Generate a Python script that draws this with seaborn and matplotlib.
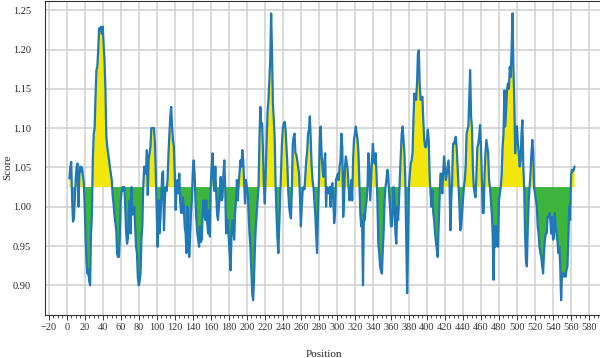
import numpy as np
import pandas as pd
import matplotlib
matplotlib.use("Agg")
import matplotlib.pyplot as plt
import seaborn as sns
from matplotlib.ticker import MultipleLocator

# scores, one per residue position (3 .. 564)
start_pos = 3
scores = [
    1.036, 1.050, 1.057, 1.010, 0.981, 0.985, 1.010, 1.035, 1.050, 1.055,
    1.000, 1.040, 1.051, 1.045, 1.050, 1.040, 1.030, 1.000, 0.960, 0.930,
    0.915, 0.920, 0.905, 0.900, 0.966, 0.990, 1.060, 1.093, 1.100, 1.140,
    1.174, 1.178, 1.200, 1.227, 1.225, 1.229, 1.220, 1.229, 1.208, 1.185,
    1.150, 1.090, 1.076, 1.068, 1.060, 1.050, 1.042, 1.034, 1.015, 1.004,
    0.990, 0.980, 0.970, 0.940, 0.936, 0.936, 0.960, 1.008, 1.020, 1.025,
    1.020, 1.025, 1.000, 0.966, 0.953, 0.960, 0.990, 1.008, 0.966, 1.025,
    0.990, 0.995, 1.000, 0.975, 0.949, 0.941, 0.910, 0.900, 0.905, 0.915,
    0.960, 0.975, 1.025, 1.051, 1.045, 1.042, 1.072, 1.015, 1.060, 1.068,
    1.076, 1.100, 1.100, 1.100, 1.100, 1.080, 1.040, 0.990, 0.949, 1.008,
    0.966, 0.983, 1.010, 1.042, 1.045, 0.970, 1.010, 1.025, 1.020, 1.034,
    1.068, 1.093, 1.115, 1.127, 1.102, 1.085, 1.076, 1.042, 0.996, 1.025,
    1.034, 1.017, 1.042, 1.008, 0.992, 0.992, 1.012, 1.000, 0.975, 0.966,
    0.941, 1.000, 0.975, 0.936, 0.960, 0.992, 1.008, 1.045, 1.059, 1.042,
    1.008, 0.983, 0.966, 0.958, 0.949, 0.975, 0.955, 0.958, 0.992, 1.008,
    0.990, 0.983, 1.008, 0.980, 0.966, 0.995, 0.962, 1.030, 1.051, 1.068,
    1.030, 1.020, 1.051, 1.017, 0.990, 0.983, 1.000, 1.017, 1.038, 1.008,
    1.012, 1.040, 1.059, 1.025, 0.966, 0.975, 0.983, 0.958, 0.940, 0.919,
    0.966, 0.983, 0.970, 0.958, 0.992, 1.008, 1.034, 1.008, 1.030, 1.045,
    1.059, 1.051, 1.072, 1.059, 1.030, 1.004, 1.034, 1.025, 1.017, 0.990,
    0.965, 0.949, 0.920, 0.890, 0.881, 0.907, 0.949, 0.975, 0.992, 1.008,
    1.025, 1.085, 1.127, 1.102, 1.106, 1.068, 1.025, 1.004, 1.042, 1.085,
    1.120, 1.136, 1.160, 1.187, 1.246, 1.195, 1.131, 1.110, 1.085, 1.025,
    0.990, 0.960, 0.941, 0.975, 1.010, 1.040, 1.080, 1.100, 1.106, 1.108,
    1.098, 1.076, 1.055, 1.020, 1.000, 0.990, 0.985, 1.020, 1.080, 1.089,
    1.093, 1.068, 1.066, 1.059, 1.050, 1.042, 1.013, 0.975, 1.000, 1.020,
    1.025, 1.022, 1.040, 1.059, 1.070, 1.093, 1.098, 1.115, 1.085, 1.051,
    1.034, 1.025, 1.008, 0.990, 0.966, 0.941, 0.992, 1.030, 1.085, 1.102,
    1.068, 1.050, 1.038, 1.055, 1.068, 1.000, 1.025, 1.020, 1.017, 1.025,
    1.000, 1.025, 1.030, 1.008, 0.979, 0.992, 1.034, 1.038, 1.042, 1.034,
    1.051, 1.059, 1.093, 1.076, 0.987, 1.008, 1.051, 1.064, 1.055, 1.047,
    1.025, 1.008, 1.017, 1.034, 1.008, 1.060, 1.085, 1.093, 1.102, 1.093,
    1.085, 1.068, 1.030, 0.992, 0.975, 0.983, 0.900, 0.990, 0.983, 1.000,
    1.008, 1.025, 1.068, 1.051, 1.008, 1.034, 1.060, 1.080, 1.064, 1.055,
    1.068, 1.042, 1.008, 0.953, 0.941, 0.924, 0.918, 0.915, 0.945, 0.970,
    1.008, 1.025, 1.034, 1.047, 1.042, 1.017, 1.000, 0.975, 0.975, 0.992,
    1.025, 1.008, 0.966, 0.953, 1.000, 0.983, 1.008, 1.040, 1.068, 1.093,
    1.102, 1.085, 1.068, 1.034, 0.966, 0.890, 0.950, 1.025, 1.042, 1.055,
    1.059, 1.068, 1.110, 1.144, 1.136, 1.136, 1.157, 1.195, 1.199, 1.155,
    1.136, 1.138, 1.140, 1.110, 1.085, 1.076, 1.076, 1.085, 1.098, 1.085,
    1.040, 1.017, 1.000, 1.021, 0.992, 0.983, 0.966, 0.955, 0.945, 0.936,
    0.975, 1.008, 1.042, 1.042, 1.017, 1.042, 1.064, 1.050, 1.034, 1.042,
    1.051, 1.059, 1.038, 0.970, 1.008, 1.034, 1.080, 1.080, 1.085, 1.089,
    1.076, 1.051, 1.025, 1.004, 0.970, 0.975, 0.992, 1.008, 1.025, 1.034,
    1.051, 1.093, 1.098, 1.102, 1.140, 1.174, 1.115, 1.102, 1.051, 1.025,
    1.017, 1.012, 1.042, 1.076, 1.080, 1.090, 1.104, 1.076, 1.034, 0.992,
    0.992, 1.042, 1.068, 1.085, 1.076, 1.068, 1.034, 1.025, 1.008, 0.992,
    0.966, 0.907, 0.975, 0.949, 0.975, 0.960, 0.949, 1.008, 1.017, 1.025,
    1.042, 1.076, 1.093, 1.148, 1.102, 1.127, 1.150, 1.157, 1.150, 1.178,
    1.165, 1.199, 1.246, 1.178, 1.136, 1.068, 1.102, 1.102, 1.080, 1.068,
    1.051, 1.059, 1.093, 1.110, 1.051, 1.025, 0.966, 0.930, 0.924, 0.975,
    1.008, 1.025, 1.042, 1.068, 1.085, 1.068, 1.025, 1.017, 1.008, 1.000,
    0.975, 0.966, 0.949, 0.941, 0.936, 0.924, 0.915, 0.941, 0.958, 0.966,
    0.966, 0.987, 0.987, 0.992, 0.983, 0.966, 0.987, 0.958, 0.960, 0.992,
    0.975, 0.966, 0.955, 0.941, 0.949, 0.925, 0.881, 0.915, 0.915, 0.911,
    0.915, 0.911, 0.920, 0.924, 0.958, 1.000, 0.983, 1.040, 1.047, 1.045,
    1.047, 1.051,
]
threshold = 1.025

x_ticks = list(range(-20, 581, 20))
y_ticks = [0.90, 0.95, 1.00, 1.05, 1.10, 1.15, 1.20, 1.25]

df = pd.DataFrame({
    "Position": np.arange(start_pos, start_pos + len(scores)),
    "Score": scores,
})

sns.set_theme(style="whitegrid")
plt.rcParams.update({
    "font.family": ["Liberation Serif", "DejaVu Serif"],
    "axes.edgecolor": "#333333",
    "axes.linewidth": 0.8,
    "grid.color": "#cfcfcf",
    "grid.linewidth": 1.1,
    "xtick.color": "#333333",
    "text.color": "#222222",
})

fig = plt.figure(figsize=(6.0, 3.58), dpi=100)
ax = fig.add_axes([0.075, 0.1201, 0.93, 0.877])

pos = df["Position"].to_numpy()
val = df["Score"].to_numpy()
ax.fill_between(pos, val, threshold, where=val >= threshold,
                interpolate=True, color="#f2e60c", linewidth=0)
ax.fill_between(pos, val, threshold, where=val < threshold,
                interpolate=True, color="#3db53d", linewidth=0)
sns.lineplot(data=df, x="Position", y="Score", color="#1f78b8",
             linewidth=1.6, ax=ax)

ax.set_xlim(-24.1, 595.5)
ax.set_ylim(0.8622, 1.2617)
ax.set_xticks(x_ticks)
ax.set_yticks(y_ticks)
ax.set_yticklabels([f"{t:.2f}" for t in y_ticks])
ax.xaxis.set_minor_locator(MultipleLocator(5))

ax.tick_params(axis="x", which="major", bottom=True, length=3.5, width=0.7,
               labelsize=7.5, pad=2, direction="out")
ax.tick_params(axis="x", which="minor", bottom=True, length=2, width=0.6,
               direction="out")
ax.tick_params(axis="y", left=False, labelsize=7.5, pad=4)
ax.grid(True, which="major")
ax.grid(False, which="minor")

ax.set_xlabel("Position", fontsize=8, labelpad=13)
ax.set_ylabel("Score", fontsize=8)
ax.yaxis.set_label_coords(-0.058, 0.47)

fig.savefig("out.png", dpi=100)
